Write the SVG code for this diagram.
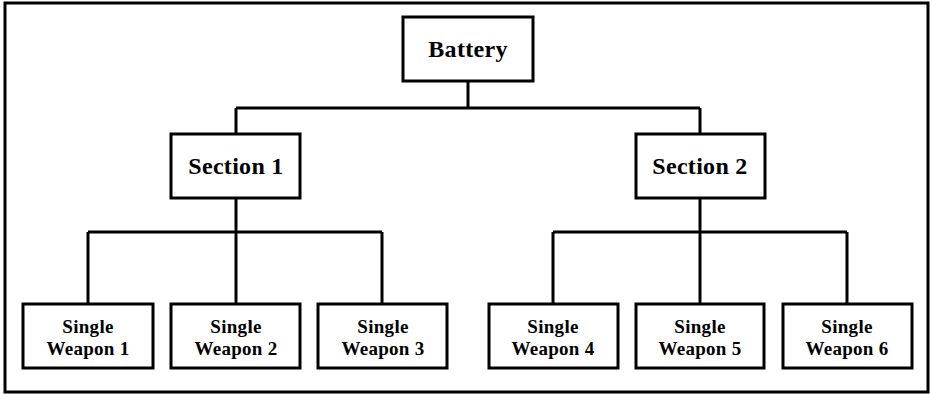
<svg xmlns="http://www.w3.org/2000/svg" width="933" height="394" viewBox="0 0 933 394">
<style>
.box{fill:#fff;stroke:#000;stroke-width:3}
.ln{fill:none;stroke:#000;stroke-width:3}
.t{font-family:"Liberation Serif","Times New Roman",serif;font-weight:bold;fill:#000;text-anchor:middle}
.big{font-size:24px;letter-spacing:0.3px}
.sm{font-size:19px;letter-spacing:0.3px}
</style>
<rect x="0" y="0" width="933" height="394" fill="#fff"/>
<rect x="5" y="3" width="923" height="389" class="ln"/>
<g id="connectors">
<path class="ln" d="M468 81V108M236 108H700M236 108V134M700 108V134"/>
<path class="ln" d="M236 198V232M88 232H382M88 232V304M236 232V304M382 232V304"/>
<path class="ln" d="M700 198V232M553 232H847M553 232V304M700 232V304M847 232V304"/>
</g>
<g id="battery"><rect class="box" x="403" y="17" width="130" height="64"/><text class="t big" x="468" y="57">Battery</text></g>
<g id="section1"><rect class="box" x="171" y="134" width="129" height="64"/><text class="t big" x="236" y="174">Section 1</text></g>
<g id="section2"><rect class="box" x="636" y="134" width="129" height="64"/><text class="t big" x="700" y="174">Section 2</text></g>
<g id="weapon1"><rect class="box" x="23" y="304" width="130" height="64"/><text class="t sm" x="88" y="333">Single</text><text class="t sm" x="88" y="355">Weapon 1</text></g>
<g id="weapon2"><rect class="box" x="171" y="304" width="129" height="64"/><text class="t sm" x="236" y="333">Single</text><text class="t sm" x="236" y="355">Weapon 2</text></g>
<g id="weapon3"><rect class="box" x="318" y="304" width="129" height="64"/><text class="t sm" x="383" y="333">Single</text><text class="t sm" x="383" y="355">Weapon 3</text></g>
<g id="weapon4"><rect class="box" x="489" y="304" width="129" height="64"/><text class="t sm" x="553" y="333">Single</text><text class="t sm" x="553" y="355">Weapon 4</text></g>
<g id="weapon5"><rect class="box" x="636" y="304" width="128" height="64"/><text class="t sm" x="700" y="333">Single</text><text class="t sm" x="700" y="355">Weapon 5</text></g>
<g id="weapon6"><rect class="box" x="783" y="304" width="129" height="64"/><text class="t sm" x="847" y="333">Single</text><text class="t sm" x="847" y="355">Weapon 6</text></g>
</svg>
